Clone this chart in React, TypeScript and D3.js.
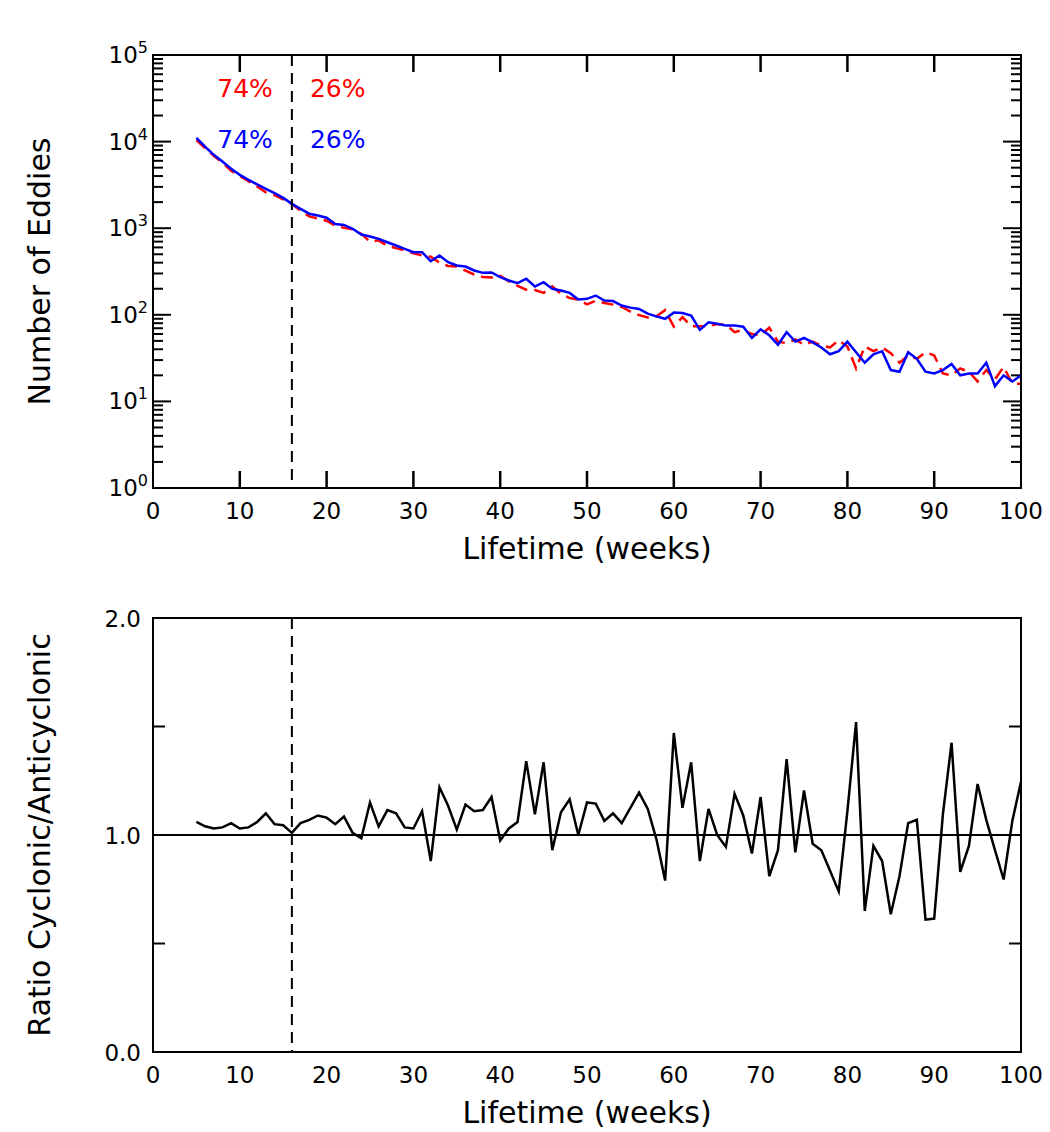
import * as d3 from 'd3';

// weeks 5..100
const weeks = d3.range(5, 101);

// blue solid (cyclonic)
const cyclonic = [
  11070, 8770, 7030, 5890, 4850, 4130, 3620, 3200, 2850, 2540,
  2240, 1910, 1670, 1470, 1400, 1320, 1120, 1090, 984, 845,
  802, 753, 689, 631, 578, 528, 528, 416, 484, 405,
  371, 361, 325, 305, 308, 272, 249, 232, 261, 212,
  238, 200, 191, 179, 150, 153, 167, 146, 144, 128,
  121, 117, 103, 96, 90, 106, 105, 98, 67, 82,
  79, 75, 75, 73, 54, 68, 58, 45, 63, 49,
  54, 48, 42, 35, 38, 49, 37, 28, 35, 38,
  23, 22, 37, 31, 22, 21, 23, 27, 20, 21,
  21, 28, 15, 20, 17, 20,
];

// red dashed (anticyclonic)
const anticyclonic = [
  10400, 8410, 6840, 5690, 4600, 4010, 3500, 3030, 2590, 2410,
  2150, 1900, 1590, 1370, 1290, 1220, 1070, 1010, 973, 859,
  698, 724, 624, 589, 556, 514, 484, 468, 401, 367,
  361, 324, 292, 273, 269, 282, 243, 216, 195, 193,
  179, 213, 174, 156, 150, 132, 145, 137, 131, 123,
  109, 99, 93, 96, 113, 73, 94, 74, 74, 74,
  78, 77, 63, 67, 60, 58, 71, 49, 47, 52,
  45, 49, 44, 42, 51, 43, 24, 43, 38, 42,
  36, 28, 34, 31, 37, 34, 21, 20, 24, 22,
  17, 23, 18, 25, 16, 16,
];

// ratio cyclonic / anticyclonic
const ratio = [
  1.06, 1.04, 1.03, 1.035, 1.055, 1.03, 1.035, 1.06, 1.1, 1.05,
  1.045, 1.01, 1.055, 1.07, 1.09, 1.08, 1.05, 1.085, 1.01, 0.985,
  1.15, 1.04, 1.115, 1.1, 1.035, 1.03, 1.11, 0.88, 1.22, 1.135,
  1.025, 1.14, 1.11, 1.115, 1.175, 0.975, 1.03, 1.06, 1.34, 1.095,
  1.335, 0.93, 1.105, 1.165, 1.0, 1.15, 1.145, 1.065, 1.1, 1.055,
  1.125, 1.195, 1.12, 0.98, 0.79, 1.47, 1.125, 1.335, 0.88, 1.12,
  1.0, 0.945, 1.19, 1.09, 0.915, 1.175, 0.81, 0.93, 1.35, 0.92,
  1.205, 0.96, 0.93, 0.835, 0.74, 1.11, 1.52, 0.65, 0.95, 0.88,
  0.635, 0.81, 1.055, 1.07, 0.61, 0.615, 1.095, 1.425, 0.83, 0.95,
  1.235, 1.07, 0.93, 0.795, 1.065, 1.245,
];

const xTicks = [0, 10, 20, 30, 40, 50, 60, 70, 80, 90, 100];
const ratioTicks = [0, 0.5, 1, 1.5, 2];
const ratioLabels = ['0.0', '1.0', '2.0'];
const splitWeek = 16;
const pctLeft = '74%';
const pctRight = '26%';

const FONT = 'DejaVu Sans, sans-serif';
const RED = '#ff0000';
const BLUE = '#0000ff';

const left = 153;
const right = 1021;
const top1 = 55;
const bot1 = 488;
const top2 = 618;
const bot2 = 1052;

export default function App() {
  const x = d3.scaleLinear().domain([0, 100]).range([left, right]);
  const yLog = d3.scaleLog().domain([1, 1e5]).range([bot1, top1]);
  const yRat = d3.scaleLinear().domain([0, 2]).range([bot2, top2]);

  const lineLog = d3
    .line<number>()
    .x((d, i) => x(weeks[i]))
    .y((d) => yLog(d));
  const lineRat = d3
    .line<number>()
    .x((d, i) => x(weeks[i]))
    .y((d) => yRat(d));

  const logTicks = yLog.ticks();
  const isMajor = (v) => Math.abs(Math.log10(v) - Math.round(Math.log10(v))) < 1e-9;

  // x ticks of the upper panel, inward from top and bottom edges
  const innerX = xTicks.filter((t) => t > 0 && t < 100);

  const xLabels = (yBot) =>
    xTicks.map((t) => (
      <text key={t} x={x(t)} y={yBot + 31} textAnchor="middle" fontSize={23} fontFamily={FONT}>
        {t}
      </text>
    ));

  return (
    <svg width={1050} height={1132} style={{ position: 'absolute', left: 0, top: 0, background: '#fff' }}>
      <rect width={1050} height={1132} fill="#fff" />

      {/* ---------- TOP PANEL ---------- */}
      {logTicks.map((v, i) => {
        const len = isMajor(v) ? 18 : 10;
        if (v === 1 || v === 1e5) return null;
        return (
          <g key={i}>
            <line x1={left} x2={left + len} y1={yLog(v)} y2={yLog(v)} stroke="#000" strokeWidth={2} />
            <line x1={right} x2={right - len} y1={yLog(v)} y2={yLog(v)} stroke="#000" strokeWidth={2} />
          </g>
        );
      })}
      {innerX.map((t) => (
        <g key={'xt' + t}>
          <rect x={x(t) - 1.25} y={bot1 - 17} width={2.5} height={17} fill="#000" />
          <rect x={x(t) - 1.25} y={top1} width={2.5} height={17} fill="#000" />
        </g>
      ))}
      {logTicks.filter(isMajor).map((v) => (
        <text key={v} x={148} y={yLog(v) + 8} textAnchor="end" fontSize={23} fontFamily={FONT}>
          10
          <tspan fontSize={16} dy={-10}>
            {Math.round(Math.log10(v))}
          </tspan>
        </text>
      ))}
      {xLabels(bot1)}
      <text x={(left + right) / 2} y={bot1 + 71} textAnchor="middle" fontSize={30} fontFamily={FONT}>
        Lifetime (weeks)
      </text>
      <text
        transform={`translate(50, ${(top1 + bot1) / 2}) rotate(-90)`}
        textAnchor="middle"
        fontSize={30}
        fontFamily={FONT}
      >
        Number of Eddies
      </text>

      <path d={lineLog(anticyclonic)} fill="none" stroke={RED} strokeWidth={2.5} strokeDasharray="12 7" />
      <path d={lineLog(cyclonic)} fill="none" stroke={BLUE} strokeWidth={2.5} />

      <line x1={x(splitWeek)} x2={x(splitWeek)} y1={top1} y2={bot1} stroke="#000" strokeWidth={2} strokeDasharray="11 7" />

      <text x={x(splitWeek) - 19} y={top1 + 42} textAnchor="end" fontSize={25} fontFamily={FONT} fill={RED}>
        {pctLeft}
      </text>
      <text x={x(splitWeek) + 18} y={top1 + 42} fontSize={25} fontFamily={FONT} fill={RED}>
        {pctRight}
      </text>
      <text x={x(splitWeek) - 19} y={top1 + 93} textAnchor="end" fontSize={25} fontFamily={FONT} fill={BLUE}>
        {pctLeft}
      </text>
      <text x={x(splitWeek) + 18} y={top1 + 93} fontSize={25} fontFamily={FONT} fill={BLUE}>
        {pctRight}
      </text>

      <rect x={left} y={top1} width={right - left} height={bot1 - top1} fill="none" stroke="#000" strokeWidth={2} />

      {/* ---------- BOTTOM PANEL ---------- */}
      {ratioTicks.map((t) => (
        <g key={t}>
          <line x1={left} x2={left + 12} y1={yRat(t)} y2={yRat(t)} stroke="#000" strokeWidth={2} />
          <line x1={right} x2={right - 12} y1={yRat(t)} y2={yRat(t)} stroke="#000" strokeWidth={2} />
        </g>
      ))}
      {ratioLabels.map((l) => (
        <text key={l} x={141} y={yRat(+l) + 9} textAnchor="end" fontSize={23} fontFamily={FONT}>
          {l}
        </text>
      ))}
      {xLabels(bot2)}
      <text x={(left + right) / 2} y={bot2 + 71} textAnchor="middle" fontSize={30} fontFamily={FONT}>
        Lifetime (weeks)
      </text>
      <text
        transform={`translate(50, ${(top2 + bot2) / 2}) rotate(-90)`}
        textAnchor="middle"
        fontSize={30}
        fontFamily={FONT}
      >
        Ratio Cyclonic/Anticyclonic
      </text>

      <line x1={left} x2={right} y1={yRat(1)} y2={yRat(1)} stroke="#000" strokeWidth={2} />
      <path d={lineRat(ratio)} fill="none" stroke="#000" strokeWidth={2.5} />
      <line x1={x(splitWeek)} x2={x(splitWeek)} y1={top2} y2={bot2} stroke="#000" strokeWidth={2} strokeDasharray="11 7" />

      <rect x={left} y={top2} width={right - left} height={bot2 - top2} fill="none" stroke="#000" strokeWidth={2} />
    </svg>
  );
}
